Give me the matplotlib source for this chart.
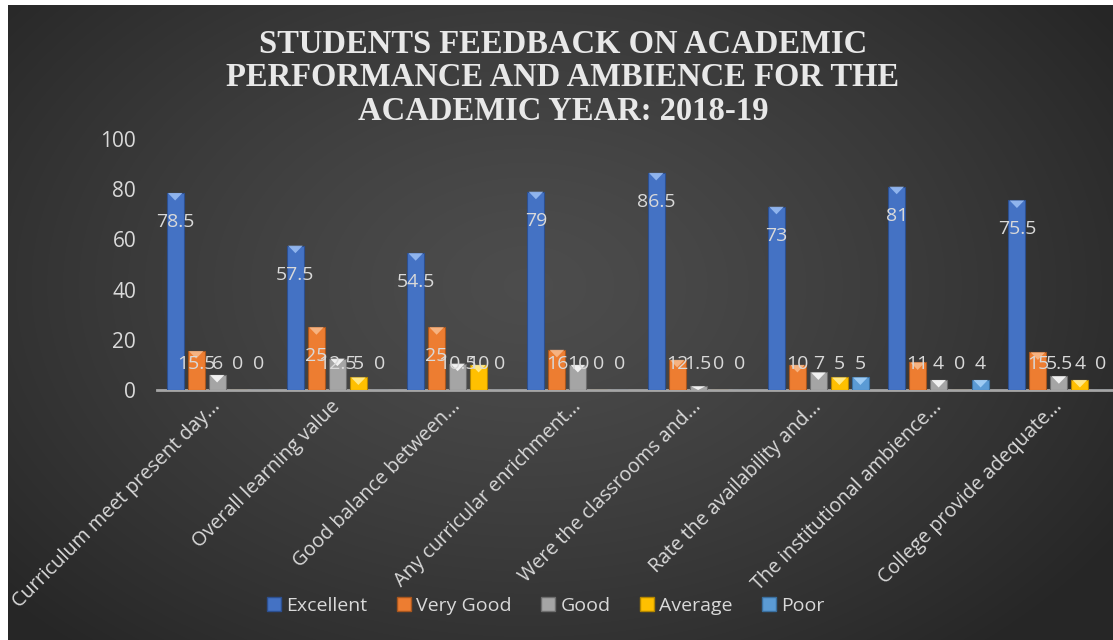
import numpy as np
import matplotlib.pyplot as plt
from matplotlib.patches import Polygon, Patch

# chart data
categories = [
    "Curriculum meet present day...",
    "Overall learning value",
    "Good balance between...",
    "Any curricular enrichment...",
    "Were the classrooms and...",
    "Rate the availability and...",
    "The institutional ambience...",
    "College provide adequate...",
]
series_names = ["Excellent", "Very Good", "Good", "Average", "Poor"]
excellent = [78.5, 57.5, 54.5, 79, 86.5, 73, 81, 75.5]
very_good = [15.5, 25, 25, 16, 12, 10, 11, 15]
good = [6, 12.5, 10.5, 10, 1.5, 7, 4, 5.5]
average = [0, 5, 10, 0, 0, 5, 0, 4]
poor = [0, 0, 0, 0, 0, 5, 4, 0]

title = "STUDENTS FEEDBACK ON ACADEMIC\nPERFORMANCE AND AMBIENCE FOR THE\nACADEMIC YEAR: 2018-19"

# styling
colors = ["#4472c4", "#ed7d31", "#a5a5a5", "#ffc000", "#5b9bd5"]
tops = ["#9dc0f5", "#f8bd90", "#ffffff", "#fff0a0", "#a9d4fa"]
edges = ["#2c4f8f", "#a8561e", "#6e6e6e", "#b38600", "#3a6f9f"]
TEXT = "#d9d9d9"
FONT = "Open Sans"

W, H = 1113, 640


def draw_background(fig):
    """Dark radial gradient backdrop with thin white margins."""
    bg = fig.add_axes([8 / W, 0, 1 - 8 / W, 635 / H], zorder=-10)
    yy, xx = np.mgrid[0:635, 0:1105]
    d = np.sqrt(((xx - 520) / 700.0) ** 2 + ((yy - 280) / 480.0) ** 2)
    d = np.clip(d, 0, 1)
    lum = 0.30 - 0.15 * d ** 1.3
    img = np.dstack([lum, lum, lum])
    bg.imshow(img, aspect="auto", interpolation="bilinear")
    bg.axis("off")


def main():
    fig = plt.figure(figsize=(W / 100, H / 100), dpi=100, facecolor="white")
    draw_background(fig)

    ax = fig.add_axes([157 / W, (H - 390) / H, 1 - 157 / W, 251 / H])
    ax.patch.set_alpha(0)

    data = [excellent, very_good, good, average, poor]
    x = np.arange(len(categories))
    step = 0.1745
    width = 0.141

    for k, (vals, name) in enumerate(zip(data, series_names)):
        pos = x + (k - 2) * step
        bars = ax.bar(pos, vals, width, color=colors[k], edgecolor=edges[k],
                      linewidth=0.8, label=name, zorder=3)
        for b, v in zip(bars, vals):
            # bevel triangle on top of bar
            if v > 0:
                x0 = b.get_x()
                x1 = x0 + b.get_width()
                h = min(3.0, v)
                tri = Polygon([[x0 + 0.01, v], [x1 - 0.01, v], [(x0 + x1) / 2, v - h]],
                              closed=True, facecolor=tops[k], edgecolor="none",
                              alpha=0.85, zorder=4)
                ax.add_patch(tri)
            ly = max(v - 11.5, 10.2)
            ax.text(b.get_x() + b.get_width() / 2, ly, f"{v:g}", ha="center",
                    va="center", color=TEXT, fontsize=14, family=FONT, zorder=5)

    ax.set_ylim(0, 100)
    ax.set_yticks(np.arange(0, 101, 20))
    ax.set_xlim(-0.5, 7.45)
    ax.set_xticks(x)
    ax.set_xticklabels(categories, rotation=45, ha="right", va="center",
                       rotation_mode="anchor", color=TEXT, fontsize=14.2, family=FONT)
    for t in ax.get_yticklabels():
        t.set_color(TEXT)
        t.set_fontsize(15)
        t.set_family(FONT)
    ax.tick_params(axis="both", length=0)
    ax.tick_params(axis="y", pad=15)
    ax.tick_params(axis="x", pad=10)
    for s in ["top", "right", "left"]:
        ax.spines[s].set_visible(False)
    ax.spines["bottom"].set_color("#a6a6a6")
    ax.spines["bottom"].set_linewidth(2)
    ax.spines["bottom"].set_zorder(2)

    fig.text(563 / W, 1 - 78 / H, title, ha="center", va="center",
             family="Liberation Serif", fontweight="bold", fontsize=23.5,
             color="#e8e8e8", linespacing=1.12)

    handles = [Patch(facecolor=c, edgecolor=e) for c, e in zip(colors, edges)]
    fig.legend(handles, series_names, loc="center", ncol=5,
               bbox_to_anchor=(546 / W, 1 - 606 / H), frameon=False,
               handlelength=0.7, handleheight=0.75, handletextpad=0.3,
               columnspacing=1.5, prop={"family": FONT, "size": 14},
               labelcolor=TEXT)

    fig.savefig("out.png", dpi=100, facecolor=fig.get_facecolor())


if __name__ == "__main__":
    main()
